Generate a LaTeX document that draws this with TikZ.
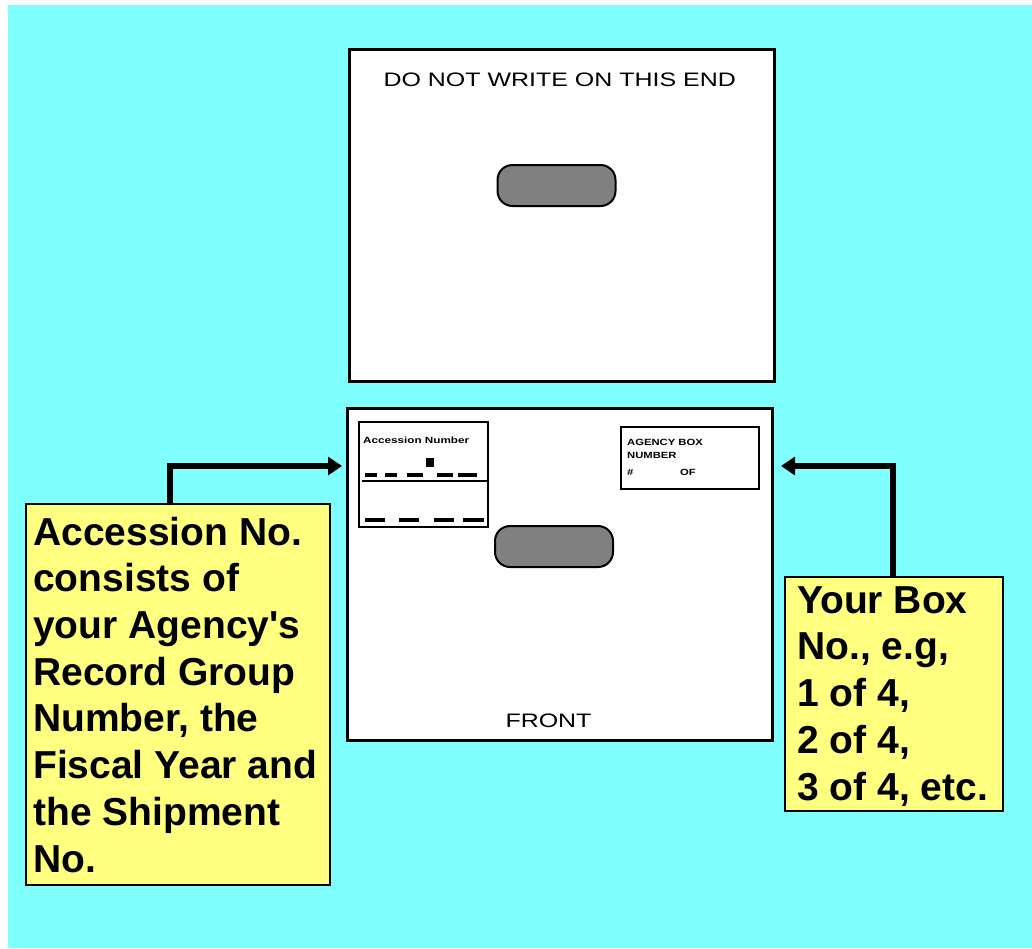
\documentclass[tikz,border=0pt]{standalone}
\usepackage{fontspec}
\setmainfont{Liberation Sans}
\newfontfamily\notefont{Liberation Sans}
\usepackage{graphicx}
\usetikzlibrary{arrows.meta}
\definecolor{bgcyan}{HTML}{80FFFF}
\definecolor{noteyellow}{HTML}{FFFF80}
\definecolor{pillgray}{HTML}{808080}
\newcommand{\hstretch}[2]{\scalebox{#1}[1]{#2}}
\begin{document}
\begin{tikzpicture}[x=1pt,y=-1pt,
  cardbox/.style={draw=black, line width=3pt, fill=white, minimum width=425pt, minimum height=332pt, inner sep=0pt},
  pill/.style={draw=black, line width=2pt, fill=pillgray, rounded corners=15pt, minimum width=118pt, minimum height=41pt, inner sep=0pt},
  note/.style={draw=black, line width=2pt, fill=noteyellow, inner sep=0pt},
  notetext/.style={anchor=base west, align=left, inner sep=0pt, font=\notefont\bfseries\fontsize{39}{46.7}\selectfont},
  labeltext/.style={inner sep=0pt, anchor=base, font=\fontsize{19.5}{22}\selectfont},
  formbox/.style={draw=black, line width=2pt, fill=white, inner sep=0pt},
  tinytext/.style={inner sep=0pt, anchor=base west, font=\bfseries\fontsize{9}{13}\selectfont},
  arr/.style={line width=6pt, -{Triangle[length=14pt,width=18pt]}},
  dashline/.style={line width=4pt}
  ]
\useasboundingbox (0,0) rectangle (1032,948);
\fill[white] (0,0) rectangle (1032,948);
\fill[bgcyan] (8,5) rectangle (1032,948);

% end of box
\node[cardbox] (endbox) at (562,215.5) {};
\node[labeltext] (endlabel) at (559.7,86.7) {\hstretch{1.28}{DO NOT WRITE ON THIS END}};
\node[pill] (endhole) at (556.5,185.5) {};

% front of box
\node[cardbox] (front) at (560,574.5) {};
\node[labeltext] (frontlabel) at (548.5,727) {\hstretch{1.28}{FRONT}};
\node[pill] (fronthole) at (554,546.5) {};

% accession number form
\node[formbox, minimum width=129pt, minimum height=105pt] (accbox) at (423.5,474.5) {};
\node[tinytext] (acclabel) at (363,443) {\hstretch{1.3}{Accession Number}};
\draw[line width=2pt] (362,481) -- (487,481);
\foreach \a/\b in {365/377,385/397,407/423,437/453,458/477}
  \draw[dashline] (\a,475) -- (\b,475);
\foreach \a/\b in {365/385,399/419,434/454,463/484}
  \draw[dashline] (\a,519.5) -- (\b,519.5);
\fill (426,458) rectangle (434,467);

% agency box number form
\node[formbox, minimum width=138pt, minimum height=62pt] (agbox) at (690,458) {};
\node[tinytext] (aglabel) at (627,445) {\hstretch{1.25}{\begin{tabular}[t]{@{}l@{}}AGENCY BOX\\NUMBER\\[4pt]\makebox[42.4pt][l]{\#}OF\end{tabular}}};

% notes
\node[note, minimum width=304pt, minimum height=381pt] (lnote) at (178,694.5) {};
\node[notetext] (lnotetext) at (33,872) {Accession No.\\consists of\\your Agency's\\Record Group\\Number, the\\Fiscal Year and\\the Shipment\\No.};
\node[note, minimum width=218pt, minimum height=234pt] (rnote) at (894,694) {};
\node[notetext] (rnotetext) at (797,800) {Your Box\\No., e.g,\\1 of 4,\\2 of 4,\\3 of 4, etc.};

% connectors
\draw[arr, shorten >=4pt] ([xshift=145pt]lnote.north west) |- ([yshift=108.5pt]front.west);
\draw[arr, shorten >=7pt] ([xshift=109pt]rnote.north west) |- ([yshift=108.5pt]front.east);
\end{tikzpicture}
\end{document}
